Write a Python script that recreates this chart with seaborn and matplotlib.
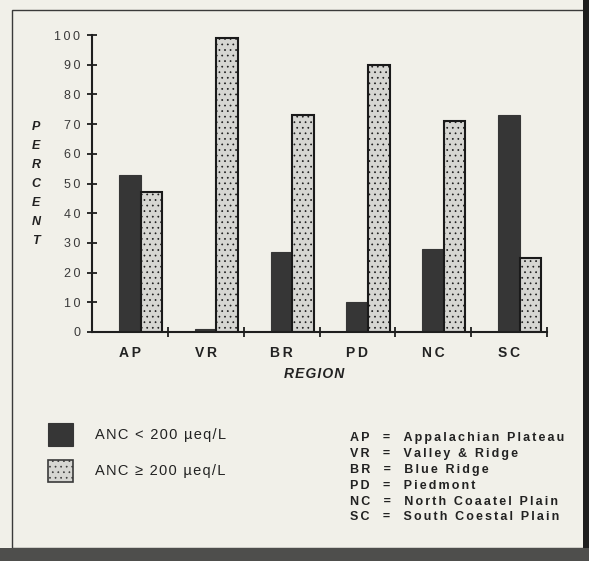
import matplotlib
matplotlib.use("Agg")
import matplotlib.pyplot as plt
from matplotlib.patches import Rectangle, Patch
import seaborn as sns
import pandas as pd

# Data: percent of streams in each ANC class by physiographic region
regions = ["AP", "VR", "BR", "PD", "NC", "SC"]
anc_low = [53, 1, 27, 10, 28, 73]      # ANC < 200 µeq/L
anc_high = [47, 99, 73, 90, 71, 25]    # ANC >= 200 µeq/L
class_labels = ["ANC < 200 \u00b5eq/L", "ANC \u2265 200 \u00b5eq/L"]
region_names = ["Appalachian Plateau", "Valley & Ridge", "Blue Ridge",
                "Piedmont", "North Coaatel Plain", "South Coestal Plain"]
y_ticks = list(range(0, 101, 10))

df = pd.DataFrame({
    "region": regions * 2,
    "pct": anc_low + anc_high,
    "anc": [class_labels[0]] * len(regions) + [class_labels[1]] * len(regions),
})

sns.set_theme(style="ticks")
FONTS = ["Liberation Sans", "DejaVu Sans"]
plt.rcParams["font.family"] = FONTS
plt.rcParams["hatch.linewidth"] = 0.5

THIN = "\u2009"
SIXTH = "\u2006"
HAIR = "\u200a"


def spaced(s, sep=THIN):
    """Typewriter-style letter spacing."""
    return sep.join(s)


BG = "#f1f0e9"
DARK = "#363636"
LIGHT = "#d6d6d2"
DOTS = "#8a8a86"
INK = "#222222"
W, H = 589, 561

fig = plt.figure(figsize=(W / 100, H / 100), dpi=100)
fig.patch.set_facecolor(BG)

# page border with dark shadow on the right and bottom
fig.patches.append(Rectangle((12 / W, 1 - 548 / H), (584 - 12) / W, (548 - 10) / H,
                             transform=fig.transFigure, fill=False,
                             edgecolor="#3a3a3a", linewidth=1.0))
fig.patches.append(Rectangle((583 / W, 0), 6 / W, 1, transform=fig.transFigure,
                             facecolor="#1e1e1e", edgecolor="none"))
fig.patches.append(Rectangle((0, 0), 1, 13 / H, transform=fig.transFigure,
                             facecolor="#4e4e4c", edgecolor="none"))

ax = fig.add_axes([92 / W, 1 - 332 / H, (547 - 92) / W, (332 - 35) / H])
ax.set_facecolor(BG)

sns.barplot(data=df, x="region", y="pct", hue="anc", order=regions,
            hue_order=class_labels, palette=[DARK, LIGHT], width=0.57,
            saturation=1, ax=ax, legend=False)

n = len(regions)
for i, p in enumerate(ax.patches):
    p.set_x(p.get_x() + 0.14)
    if i < n:
        p.set_edgecolor(DARK)
        p.set_linewidth(0.8)
    else:
        p.set_edgecolor("#1a1a1a")
        p.set_linewidth(1.5)
        p.set_hatch("...")
        if hasattr(p, "set_hatchcolor"):
            p.set_hatchcolor(DOTS)

ax.set_xlim(-0.5, n - 0.5)
ax.set_ylim(0, 100)
ax.set_yticks(y_ticks)
ax.set_yticklabels([spaced(str(v)) for v in y_ticks], fontsize=9, color="#3a3a3a")
ax.set_xticks(range(n))
ax.set_xticklabels([spaced(r) for r in regions], fontsize=10,
                   fontweight="bold", color=INK)
ax.set_xticks([i + 0.5 for i in range(n)], minor=True)
ax.tick_params(axis="y", direction="inout", length=7, width=1.3, pad=5, color="#1e1e1e")
ax.tick_params(axis="x", which="major", length=0, pad=10)
ax.tick_params(axis="x", which="minor", direction="inout", length=7, width=1.3, color="#1e1e1e")
for s in ("top", "right"):
    ax.spines[s].set_visible(False)
for s in ("left", "bottom"):
    ax.spines[s].set_linewidth(1.5)
    ax.spines[s].set_color("#1e1e1e")
ax.set_xlabel("")
ax.set_ylabel("")

fig.text(314 / W, 1 - 374 / H, spaced("REGION", HAIR), ha="center", va="center",
         fontsize=10, fontweight="bold", fontstyle="italic", color=INK)
for k, ch in enumerate("PERCENT"):
    fig.text(36 / W, 1 - (127 + 19 * k) / H, ch, ha="center", va="center", fontsize=9,
             fontweight="bold", fontstyle="italic", color=INK)

# class legend
handles = [Patch(facecolor=DARK, edgecolor=DARK, linewidth=0.8),
           Patch(facecolor=LIGHT, edgecolor="#3a3a3a", linewidth=1.2, hatch="...")]
leg = fig.legend(handles, [spaced(c, HAIR) for c in class_labels], loc="upper left",
                 bbox_to_anchor=(48 / W, 1 - 423 / H), bbox_transform=fig.transFigure,
                 frameon=False, fontsize=10.5, handlelength=1.71, handleheight=2.0,
                 handletextpad=1.5, labelspacing=0.96, borderpad=0, borderaxespad=0,
                 labelcolor=INK)
if hasattr(leg.legend_handles[1], "set_hatchcolor"):
    leg.legend_handles[1].set_hatchcolor(DOTS)

# region key
for k, (code, name) in enumerate(zip(regions, region_names)):
    fig.text(350 / W, 1 - (438 + 15.9 * k) / H, spaced(f"{code}  =  {name}", SIXTH),
             ha="left", va="center", fontsize=9, fontweight="bold", color=INK)

fig.savefig("out.png", dpi=100, facecolor=BG)
